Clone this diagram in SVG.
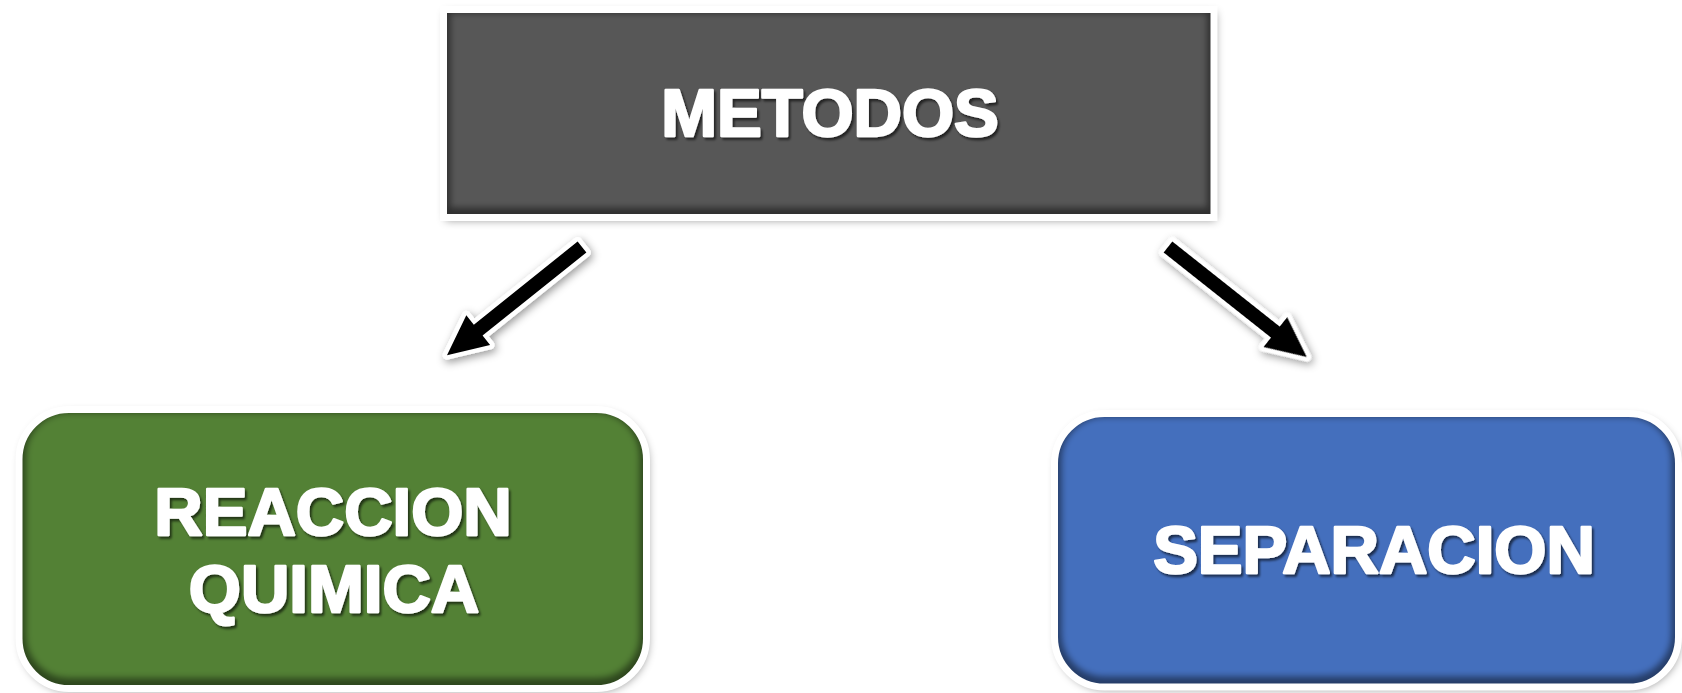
<svg xmlns="http://www.w3.org/2000/svg" width="1682" height="693" viewBox="0 0 1682 693">
  <defs>
    <filter id="outer" x="-10%" y="-10%" width="120%" height="120%">
      <feGaussianBlur in="SourceAlpha" stdDeviation="4"/>
      <feOffset dx="2" dy="3" result="b"/>
      <feFlood flood-color="#000" flood-opacity="0.4"/>
      <feComposite in2="b" operator="in" result="s"/>
      <feMerge><feMergeNode in="s"/><feMergeNode in="SourceGraphic"/></feMerge>
    </filter>
    <filter id="blur" x="-10%" y="-10%" width="120%" height="120%">
      <feGaussianBlur stdDeviation="3"/>
    </filter>
    <filter id="txt" x="-5%" y="-20%" width="110%" height="140%">
      <feDropShadow dx="2" dy="2.5" stdDeviation="1.3" flood-color="#000" flood-opacity="0.6"/>
    </filter>
    <clipPath id="clipM"><rect x="443.5" y="9.5" width="770.5" height="208"/></clipPath>
    <clipPath id="clipR"><rect x="19" y="409.5" width="627.5" height="279" rx="50"/></clipPath>
    <clipPath id="clipS"><rect x="1054.5" y="413.5" width="624" height="273.5" rx="50"/></clipPath>
  </defs>
  <style>
    .frame { fill: none; stroke: #ffffff; stroke-width: 7; }
    .bevel { fill: none; stroke: #000000; stroke-opacity: 0.45; stroke-width: 14; filter: url(#blur); }
    .label { font-family: "Liberation Sans", Arial, sans-serif; font-weight: 700; font-size: 67px; fill: #ffffff; stroke: #ffffff; stroke-width: 2.5; stroke-linejoin: round; text-anchor: middle; }
    .arrow { fill: #000000; stroke: #ffffff; stroke-width: 9; stroke-linejoin: round; paint-order: stroke; }
  </style>
  <rect width="1682" height="693" fill="#ffffff"/>

  <g id="connectors" filter="url(#outer)">
    <polygon class="arrow" transform="translate(582,247) rotate(141.3)" points="0,-7 133,-7 133,-19 173,0 133,19 133,7 0,7"/>
    <polygon class="arrow" transform="translate(1168,247) rotate(38.4)" points="0,-7 137,-7 137,-19 177,0 137,19 137,7 0,7"/>
  </g>

  <g id="metodos">
    <g filter="url(#outer)">
      <rect x="443.5" y="9.5" width="770.5" height="208" fill="#ffffff"/>
    </g>
    <rect x="443.5" y="9.5" width="770.5" height="208" fill="#575757"/>
    <g clip-path="url(#clipM)">
      <rect class="bevel" x="443.5" y="6.5" width="770.5" height="208"/>
    </g>
    <rect class="frame" x="443.5" y="9.5" width="770.5" height="208"/>
    <g filter="url(#txt)">
      <text class="label" x="830" y="136" font-weight="bold">METODOS</text>
    </g>
  </g>

  <g id="reaccion">
    <g filter="url(#outer)">
      <rect x="19" y="409.5" width="627.5" height="279" rx="50" fill="#ffffff"/>
    </g>
    <rect x="19" y="409.5" width="627.5" height="279" rx="50" fill="#538135"/>
    <g clip-path="url(#clipR)">
      <rect class="bevel" x="19" y="406" width="627.5" height="279" rx="50"/>
    </g>
    <rect class="frame" x="19" y="409.5" width="627.5" height="279" rx="50"/>
    <g filter="url(#txt)">
      <text class="label" x="333" y="535" font-weight="bold">REACCION</text>
      <text class="label" x="334" y="612" font-weight="bold">QUIMICA</text>
    </g>
  </g>

  <g id="separacion">
    <g filter="url(#outer)">
      <rect x="1054.5" y="413.5" width="624" height="273.5" rx="50" fill="#ffffff"/>
    </g>
    <rect x="1054.5" y="413.5" width="624" height="273.5" rx="50" fill="#446fbd"/>
    <g clip-path="url(#clipS)">
      <rect class="bevel" x="1054.5" y="410" width="624" height="273.5" rx="50"/>
    </g>
    <rect class="frame" x="1054.5" y="413.5" width="624" height="273.5" rx="50"/>
    <g filter="url(#txt)">
      <text class="label" x="1374" y="573" font-weight="bold">SEPARACION</text>
    </g>
  </g>
</svg>
